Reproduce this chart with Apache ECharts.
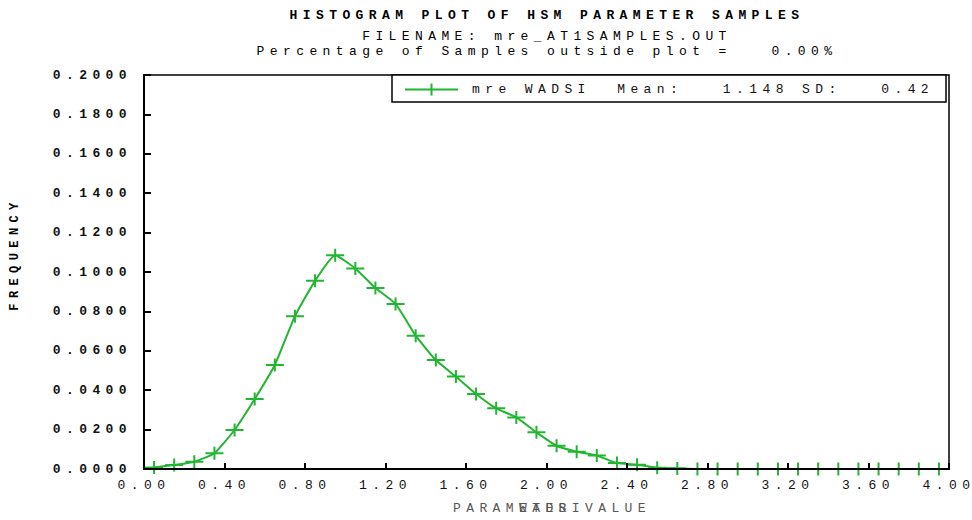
<!DOCTYPE html>
<html>
<head>
<meta charset="utf-8">
<script src="https://cdn.jsdelivr.net/npm/echarts@6/dist/echarts.min.js"></script>
<style>
  html, body { margin: 0; padding: 0; background: #fff; }
  #chart { width: 972px; height: 520px; }
  /* wide, plotter-style character spacing for every label */
  #chart svg text { letter-spacing: 5.4px; white-space: pre; }
</style>
</head>
<body>
<div id="chart"></div>
<script>
// Histogram bin centres (parameter value) and relative frequency per bin
const binCenters = [
  0.05, 0.15, 0.25, 0.35, 0.45, 0.55, 0.65, 0.75, 0.85, 0.95,
  1.05, 1.15, 1.25, 1.35, 1.45, 1.55, 1.65, 1.75, 1.85, 1.95,
  2.05, 2.15, 2.25, 2.35, 2.45, 2.55, 2.65, 2.75, 2.85, 2.95,
  3.05, 3.15, 3.25, 3.35, 3.45, 3.55, 3.65, 3.75, 3.85, 3.95
];
const frequency = [
  0.0008, 0.0020, 0.0037, 0.0080, 0.0198, 0.0355, 0.0528, 0.0776, 0.0955, 0.1085,
  0.1018, 0.0919, 0.0838, 0.0677, 0.0553, 0.0469, 0.0381, 0.0308, 0.0262, 0.0186,
  0.0118, 0.0088, 0.0068, 0.0030, 0.0022, 0.0006, 0.0003, 0.0000, 0.0000, 0.0000,
  0.0000, 0.0000, 0.0000, 0.0000, 0.0000, 0.0000, 0.0000, 0.0000, 0.0000, 0.0000
];

// Summary statistics shown in the legend
const parameterName = 'mre WADSI';
const sampleMean = ['1.148'];
const sampleSD = ['0.42'];

// Header lines
const titleLines = [
  'HISTOGRAM PLOT OF HSM PARAMETER SAMPLES',
  'FILENAME: mre_AT1SAMPLES.OUT',
  'Percentage of Samples outside plot =   0.00%'
];
const yAxisTitle = 'FREQUENCY';
const xAxisTitle = 'PARAMETER VALUE';
const xAxisOverprint = 'WADSI';

const FONT = 'Liberation Mono';
const FS = 13;
const GREEN = '#22b532';
const PITCH = 13.2; // character cell width incl. spacing

const legendName = parameterName + '  Mean:   ' + sampleMean[0] + ' SD:   ' + sampleSD[0];

// "+" plotting symbol, a bit wider than tall
const crossSymbol = 'path://M0,5.5H18V7.5H0Z M8,0H10V13H8Z';
const legendIcon = 'path://M0,5H53V7H0Z M25.5,0H27.5V12H25.5Z';

const chart = echarts.init(document.getElementById('chart'), null, { renderer: 'svg' });

const textStyleBase = { fontFamily: FONT, fontSize: FS, fill: '#000' };
const centered = { align: 'center', textAlign: 'center', verticalAlign: 'middle', textVerticalAlign: 'middle' };
const leftMid = { align: 'left', textAlign: 'left', verticalAlign: 'middle', textVerticalAlign: 'middle' };

chart.setOption({
  animation: false,
  backgroundColor: '#fff',
  grid: {
    left: 144, right: 23, top: 75, bottom: 51,
    show: true, borderColor: '#000', borderWidth: 1.5,
    backgroundColor: 'transparent',
    outerBoundsMode: 'none'
  },
  xAxis: {
    type: 'value', min: 0, max: 4, interval: 0.4, z: 5,
    axisLine: { show: true, lineStyle: { color: '#000', width: 2 } },
    axisTick: { show: true, inside: true, length: 6, lineStyle: { color: '#000', width: 2 } },
    axisLabel: {
      margin: 10, fontFamily: FONT, fontSize: FS, color: '#111',
      formatter: v => v.toFixed(2)
    },
    splitLine: { show: false }
  },
  yAxis: {
    type: 'value', min: 0, max: 0.2, interval: 0.02, z: 5,
    axisLine: { show: true, lineStyle: { color: '#000', width: 2 } },
    axisTick: { show: true, inside: true, length: 7, lineStyle: { color: '#000', width: 2 } },
    axisLabel: {
      margin: 12, fontFamily: FONT, fontSize: FS, fontWeight: 'bold', color: '#111',
      formatter: v => v.toFixed(4)
    },
    splitLine: { show: false }
  },
  legend: {
    left: 405, top: 83, padding: 0, z: 6,
    itemWidth: 53, itemHeight: 12,
    selectedMode: false,
    textStyle: { fontFamily: FONT, fontSize: FS, color: '#111', padding: [0, 0, 0, 9] },
    data: [{ name: legendName, icon: legendIcon, itemStyle: { color: GREEN } }]
  },
  graphic: [
    {
      type: 'rect', z: 4,
      shape: { x: 392, y: 75, width: 554, height: 27 },
      style: { fill: '#fff', stroke: '#000', lineWidth: 1.5 }
    },
    {
      type: 'text', x: 547, y: 15,
      style: Object.assign({}, textStyleBase, centered, { text: titleLines[0], fontWeight: 'bold' })
    },
    {
      type: 'text', x: 547, y: 36,
      style: Object.assign({}, textStyleBase, centered, { text: titleLines[1] })
    },
    {
      type: 'text', x: 547, y: 51,
      style: Object.assign({}, textStyleBase, centered, { text: titleLines[2] })
    },
    {
      type: 'text', x: 15, y: 254, rotation: Math.PI / 2,
      style: Object.assign({}, textStyleBase, centered, { text: yAxisTitle, fontWeight: 'bold', fontSize: 12 })
    },
    {
      type: 'text', x: 453, y: 508,
      style: Object.assign({}, textStyleBase, leftMid, { text: xAxisTitle, fill: '#555' })
    },
    {
      type: 'text', x: 453 + 5 * PITCH, y: 508,
      style: Object.assign({}, textStyleBase, leftMid, { text: xAxisOverprint, fill: '#555' })
    }
  ],
  series: [{
    type: 'line',
    name: legendName,
    data: binCenters.map((x, i) => [x, frequency[i]]),
    symbol: crossSymbol,
    symbolSize: [18, 13],
    showAllSymbol: true,
    smooth: 0.15,
    clip: false,
    z: 3,
    lineStyle: { color: GREEN, width: 2 },
    itemStyle: { color: GREEN }
  }]
});
</script>
</body>
</html>
